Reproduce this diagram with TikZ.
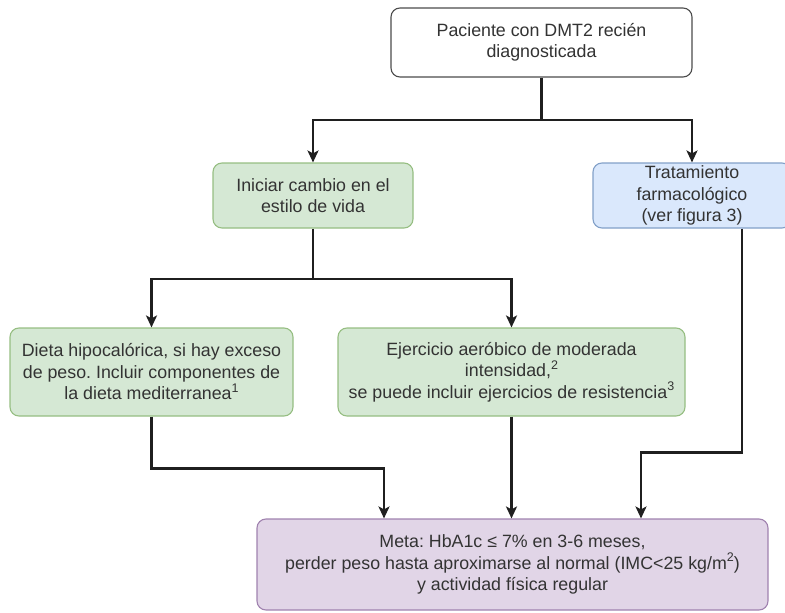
\documentclass[tikz,border=0pt]{standalone}
\usepackage{fontspec}
\setmainfont{Liberation Sans}
\usetikzlibrary{arrows.meta}
\frenchspacing

\definecolor{verde}{RGB}{213,232,212}
\definecolor{verdeborde}{RGB}{150,190,130}
\definecolor{azul}{RGB}{218,232,252}
\definecolor{azulborde}{RGB}{130,160,200}
\definecolor{lila}{RGB}{225,213,231}
\definecolor{lilaborde}{RGB}{160,130,175}
\definecolor{texto}{RGB}{51,51,51}

\newcommand{\supind}[1]{\raisebox{0.42em}{\fontsize{12.5}{12.5}\selectfont #1}}

\tikzset{
	caja/.style={rounded corners=9pt, draw=black!70, line width=1.1pt, fill=white, align=center,
		text=texto, inner sep=0pt, font=\fontsize{17.8}{21.5}\selectfont},
	cajaverde/.style={caja, fill=verde, draw=verdeborde},
	cajaazul/.style={caja, fill=azul, draw=azulborde},
	cajalila/.style={caja, fill=lila, draw=lilaborde},
	linea/.style={line width=2.4pt, draw=black!88},
	flecha/.style={linea, -{Stealth[length=12pt,width=11pt,inset=3pt]}},
}

\begin{document}
\begin{tikzpicture}[x=1pt,y=-1pt]
	\useasboundingbox (0,0) rectangle (785,613);

	\node[caja, minimum width=301, minimum height=69] (paciente) at (541.5,42.5) {Paciente con DMT2 recién\\diagnosticada};
	\node[cajaverde, minimum width=200, minimum height=65] (vida) at (313,195.5) {Iniciar cambio en el\\estilo de vida};
	\node[cajaazul, minimum width=198, minimum height=65] (farmaco) at (692,195.5) {Tratamiento\\farmacológico\\(ver figura 3)};
	\node[cajaverde, minimum width=283, minimum height=88] (dieta) at (151.5,372) {Dieta hipocalórica, si hay exceso\\de peso. Incluir componentes de\\la dieta mediterranea\supind{1}};
	\node[cajaverde, minimum width=347, minimum height=88] (ejercicio) at (511.5,372) {Ejercicio aeróbico de moderada\\intensidad,\supind{2}\\se puede incluir ejercicios de resistencia\supind{3}};
	\node[cajalila, minimum width=511, minimum height=91] (meta) at (512.5,564.5) {Meta: HbA1c ≤ 7\% en 3-6 meses,\\perder peso hasta aproximarse al normal (IMC<25 kg/m\supind{2})\\y actividad física regular};

	% ramas
	\coordinate (j1) at (541.5,120);
	\coordinate (j2) at (313,279);
	\draw[linea] (paciente.south) -- (j1);
	\foreach \n in {vida,farmaco} {
		\draw[flecha] (j1) -| (\n.north);
	}
	\draw[linea] (vida.south) -- (j2);
	\foreach \n in {dieta,ejercicio} {
		\draw[flecha] (j2) -| (\n.north);
	}

	% hacia la meta
	\draw[flecha] (dieta.south) -- ++(0,52) -| ([xshift=-128.5pt]meta.north);
	\draw[flecha] (ejercicio.south) -- (ejercicio.south |- meta.north);
	\draw[flecha] ([xshift=50pt]farmaco.south) -- ++(0,224) -| ([xshift=128.5pt]meta.north);
\end{tikzpicture}
\end{document}
